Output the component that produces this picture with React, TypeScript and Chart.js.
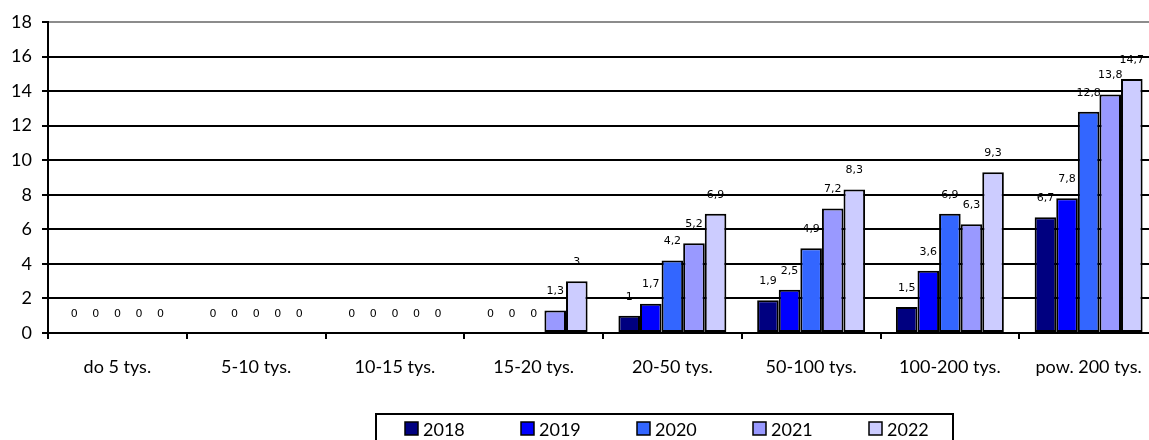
import { useEffect, useRef } from "react";
import { Chart, registerables } from "chart.js";

Chart.register(...registerables);

const categories = [
  "do 5 tys.",
  "5-10 tys.",
  "10-15 tys.",
  "15-20 tys.",
  "20-50 tys.",
  "50-100 tys.",
  "100-200 tys.",
  "pow. 200 tys.",
];
const years = ["2018", "2019", "2020", "2021", "2022"];
const values2018 = [0, 0, 0, 0, 1, 1.9, 1.5, 6.7];
const values2019 = [0, 0, 0, 0, 1.7, 2.5, 3.6, 7.8];
const values2020 = [0, 0, 0, 0, 4.2, 4.9, 6.9, 12.8];
const values2021 = [0, 0, 0, 1.3, 5.2, 7.2, 6.3, 13.8];
const values2022 = [0, 0, 0, 3, 6.9, 8.3, 9.3, 14.7];
const seriesValues = [values2018, values2019, values2020, values2021, values2022];
const colors = ["#000080", "#0000FF", "#3366FF", "#9999FF", "#CCCCFF"];
const yMin = 0;
const yMax = 18;
const yStep = 2;

const FONT = "Lato";

const dataLabelPlugin = {
  id: "dataLabels",
  afterDatasetsDraw(chart: any) {
    const ctx = chart.ctx;
    ctx.save();
    ctx.font = '11px "DejaVu Sans"';
    ctx.fillStyle = "#000";
    ctx.textAlign = "center";
    ctx.textBaseline = "middle";
    chart.data.datasets.forEach((ds: any, i: number) => {
      const meta = chart.getDatasetMeta(i);
      meta.data.forEach((bar: any, j: number) => {
        const v = ds.data[j];
        ctx.fillText(String(v).replace(".", ","), bar.x, bar.y - 19);
      });
    });
    ctx.restore();
  },
};

const boxLegendPlugin = {
  id: "boxLegend",
  afterDraw(chart: any) {
    const ctx = chart.ctx;
    ctx.save();
    ctx.lineWidth = 2;
    ctx.strokeStyle = "#000";
    ctx.strokeRect(376, 414, 577, 40);
    ctx.font = `18px ${FONT}`;
    ctx.textAlign = "left";
    ctx.textBaseline = "alphabetic";
    chart.data.datasets.forEach((ds: any, i: number) => {
      const x = 405 + i * 116;
      ctx.fillStyle = ds.backgroundColor;
      ctx.fillRect(x, 422, 13, 13);
      ctx.lineWidth = 1.5;
      ctx.strokeStyle = "#000";
      ctx.strokeRect(x, 422, 13, 13);
      ctx.fillStyle = "#000";
      ctx.fillText(ds.label, x + 18, 436);
    });
    ctx.restore();
  },
};

export default function App() {
  const ref = useRef<HTMLCanvasElement | null>(null);

  useEffect(() => {
    document.body.style.margin = "0";
    const canvas = ref.current;
    if (!canvas) return;
    const chart = new Chart(canvas, {
      type: "bar",
      data: {
        labels: categories,
        datasets: years.map((y, i) => ({
          label: y,
          data: seriesValues[i],
          backgroundColor: colors[i],
          borderColor: "#000",
          borderWidth: 2,
          borderSkipped: false,
          categoryPercentage: 0.778,
          barPercentage: 1,
        })),
      },
      options: {
        animation: false,
        responsive: true,
        maintainAspectRatio: false,
        layout: { padding: { top: 22, right: 2, bottom: 0, left: 0 } },
        plugins: {
          legend: { display: false },
          tooltip: { enabled: false },
        },
        scales: {
          x: {
            afterFit: (scale: any) => {
              scale.height = 107;
            },
            grid: {
              display: true,
              offset: true,
              drawOnChartArea: false,
              drawTicks: true,
              tickLength: 6,
              tickColor: "#000",
              tickWidth: 2,
              lineWidth: 2,
              color: "#000",
            },
            border: { display: true, color: "#000", width: 2 },
            ticks: {
              color: "#000",
              font: { family: FONT, size: 18 },
              padding: 17,
              maxRotation: 0,
              autoSkip: false,
            },
          },
          y: {
            min: yMin,
            max: yMax,
            afterFit: (scale: any) => {
              scale.width = 48;
            },
            grid: {
              color: (c: any) => (c.tick && c.tick.value === yMax ? "#8c8c8c" : "#000"),
              lineWidth: 2,
              drawTicks: true,
              tickLength: 6,
              tickColor: "#000",
              tickWidth: 2,
            },
            border: { display: true, color: "#000", width: 2 },
            ticks: {
              stepSize: yStep,
              color: "#000",
              font: { family: FONT, size: 18 },
              padding: 10,
            },
          },
        },
      },
      plugins: [dataLabelPlugin, boxLegendPlugin],
    });
    return () => chart.destroy();
  }, []);

  return (
    <div style={{ width: 1149, height: 440, overflow: "hidden", position: "relative", background: "#fff" }}>
      <div style={{ width: 1160, height: 440, position: "absolute", left: 0, top: 0 }}>
        <canvas ref={ref} />
      </div>
    </div>
  );
}
